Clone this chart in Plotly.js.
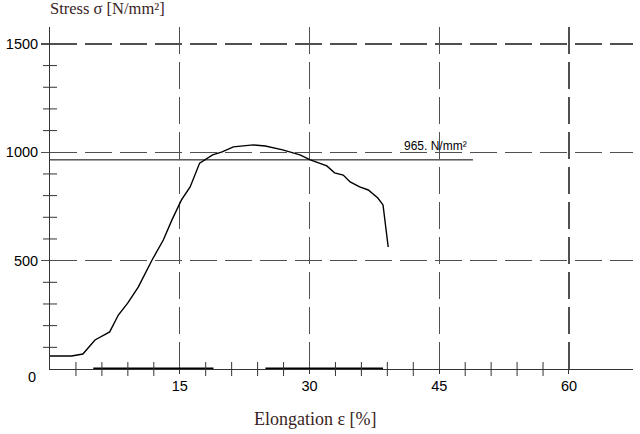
<!DOCTYPE html>
<html>
<head>
<meta charset="utf-8">
<script src="https://cdn.plot.ly/plotly-3.0.1.min.js"></script>
<style>html,body{margin:0;padding:0;background:#fff;}#chart{width:640px;height:434px;}</style>
</head>
<body>
<div id="chart"></div>
<script>
// Stress-strain curve
var elongation = [0, 2.5, 3.8, 5.2, 6.9, 7.9, 9.0, 10.2, 11.8, 13.1, 14.1, 15.2, 16.2, 17.3, 18.8, 19.9, 21.2, 23.5, 24.9, 26.9, 28.9, 30.1, 32.0, 32.9, 33.9, 34.7, 35.8, 36.8, 37.9, 38.5, 39.1];
var stress     = [60, 60, 69, 134, 171, 249, 305, 378, 503, 595, 688, 780, 840, 950, 988, 1002, 1025, 1034, 1029, 1011, 988, 965, 937, 905, 895, 863, 840, 826, 789, 757, 563];

// thick segments lying on the elongation axis
var baseX = [5.0, 18.9, null, 24.9, 38.5];
var baseY = [0, 0, null, 0, 0];

// reference stress level
var refValue = 965;
var refX = [0, 48.9];
var refLabel = '965. N/mm²';

// ticks
var xTickVals = [15, 30, 45, 60];
var xTickText = ['15', '30', '45', '60'];
var xMinorStep = 3, xMinorMax = 57;
var yTickVals = [500, 1000, 1500];
var yTickText = ['500', '1000', '1500'];
var yMinorStep = 100, yMinorMax = 1500;
var yZeroLabel = '0';

var xRange = [0, 67.4];
var yRange = [0, 1578];

// minor tick positions (crossing the axes), built from the steps above
var xMinor = [], yMinor = [];
for (var v = xMinorStep; v <= xMinorMax; v += xMinorStep) { if (v % 15 !== 0) xMinor.push(v); }
for (var w = yMinorStep; w <= yMinorMax; w += yMinorStep) { if (w % 500 !== 0) yMinor.push(w); }

var gridColor = '#505050';
var axisColor = '#333333';
var dash = '27px,8px';
var tickFont = {family: 'Liberation Sans, Arial, sans-serif', size: 14.5, color: '#000'};
var titleFont = {family: 'Liberation Serif, Times New Roman, serif', color: '#3a1e1e'};

var traces = [
  {x: elongation, y: stress, mode: 'lines', line: {color: '#000', width: 1.4}, hoverinfo: 'none', showlegend: false},
  {x: baseX, y: baseY, mode: 'lines', line: {color: '#000', width: 3}, hoverinfo: 'none', showlegend: false, connectgaps: false},
  {x: refX, y: [refValue, refValue], mode: 'lines', line: {color: '#000', width: 1}, hoverinfo: 'none', showlegend: false},
  {x: xMinor, y: xMinor.map(function(){return 0;}), mode: 'markers', cliponaxis: false, hoverinfo: 'none', showlegend: false,
   marker: {symbol: 'line-ns-open', size: 10, color: axisColor, line: {color: axisColor, width: 1}}},
  {x: yMinor.map(function(){return 0;}), y: yMinor, mode: 'markers', cliponaxis: false, hoverinfo: 'none', showlegend: false,
   marker: {symbol: 'line-ew-open', size: 10, color: axisColor, line: {color: axisColor, width: 1}}}
];

var layout = {
  width: 640, height: 434,
  margin: {l: 50, r: 7, t: 27, b: 65},
  paper_bgcolor: '#fff', plot_bgcolor: '#fff',
  showlegend: false,
  xaxis: {
    range: xRange, fixedrange: true,
    tickmode: 'array', tickvals: xTickVals, ticktext: xTickText,
    ticks: 'outside', ticklen: 4, tickwidth: 1, tickcolor: axisColor,
    showgrid: true, gridcolor: gridColor, gridwidth: 1.2, griddash: dash,
    showline: true, linecolor: axisColor, linewidth: 1,
    zeroline: false, tickfont: tickFont
  },
  yaxis: {
    range: yRange, fixedrange: true,
    tickmode: 'array', tickvals: yTickVals, ticktext: yTickText,
    ticks: 'outside', ticklen: 8, tickwidth: 1.2, tickcolor: gridColor,
    showgrid: true, gridcolor: gridColor, gridwidth: 1.2, griddash: dash,
    showline: true, linecolor: axisColor, linewidth: 1,
    zeroline: false, tickfont: tickFont
  },
  annotations: [
    {xref: 'paper', yref: 'y', x: 0, y: 0, xanchor: 'right', yanchor: 'middle', xshift: -12, yshift: -8,
     text: yZeroLabel, showarrow: false, font: tickFont},
    {xref: 'x', yref: 'y', x: refX[1], y: refValue, xanchor: 'right', yanchor: 'bottom', xshift: -4, yshift: 5,
     text: refLabel, showarrow: false, font: {family: 'Liberation Sans, Arial, sans-serif', size: 12, color: '#000'}},
    {xref: 'paper', yref: 'paper', x: -0.003, y: 1, xanchor: 'left', yanchor: 'bottom', yshift: 7,
     text: 'Stress σ [N/mm²]', showarrow: false, font: Object.assign({size: 16.5}, titleFont)},
    {xref: 'paper', yref: 'paper', x: 0.456, y: 0, xanchor: 'center', yanchor: 'top', yshift: -38,
     text: 'Elongation ε [%]', showarrow: false, font: Object.assign({size: 18}, titleFont)}
  ]
};

Plotly.newPlot('chart', traces, layout, {staticPlot: true, displayModeBar: false});
</script>
</body>
</html>
